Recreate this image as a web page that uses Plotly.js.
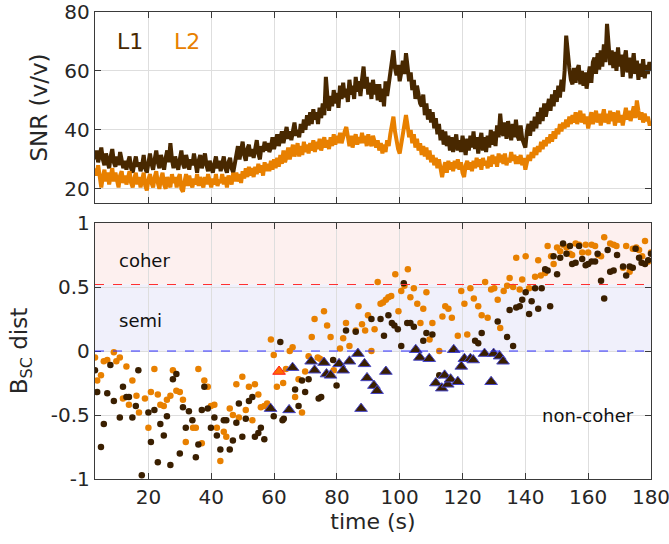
<!DOCTYPE html>
<html>
<head>
<meta charset="utf-8">
<script src="https://cdn.plot.ly/plotly-3.0.1.min.js"></script>
<style>html,body{margin:0;padding:0;background:#fff;}#chart{width:669px;height:544px;}</style>
</head>
<body>
<div id="chart"></div>
<script>
// ---------- top panel: SNR time series (0.5 s samples starting at t0) ----------
const snrT0 = 3, snrDt = 0.5;
const snrL1 = [
30,33,29,31,34,30,28,32,29.5,27,
31,33.5,29,27.5,31,28,32.5,30,27,29.5,
26.5,29,31,27,25.5,28.5,31,27.5,29,26,
28,31.5,27,25.5,29,32,28.5,26.5,30,33,
29,27,31.5,28,26.5,30.5,33,29,35.5,30,
27,31,29,26.5,30,33,28.5,27,31.5,29,
26.5,30,28,32,27.5,25.5,29.5,31.5,27,29,
32,28,26,29.5,27.5,25.5,28.5,31,27,29.5,
26,28.5,31,27,25.5,29,30.5,27,25.5,28.5,
31,34.5,30,32.5,36,31.5,29.5,33.5,35,31,
33.5,30.5,34,36.5,32,30,34.5,32.5,36,33,
35.5,32.5,34,37.5,33.5,36,38.5,34.5,36.5,39.5,
35.5,38.5,41,37,39.5,36.5,40.5,42.5,38,40,
37.5,42,39,43.5,40,45,41.5,46,42,47,
43.5,46,42,47.5,44,49,45,58,51,46.5,
51.5,48,53.5,49,52.5,47.5,55,50.5,56,51,
54,49.5,57,52,55,50.5,58,53,56.5,51.5,
57,61.5,54,58,52,56,50.5,57,52,55.5,
50,55.5,49.5,54,48,56.5,51.5,55,59,62,
67,61,58.5,62,56.5,59.5,63.5,59,66,61.5,
56.5,59.5,53.5,57,50.5,55,52,49,48,52,
45,49,43.5,47,42.5,46,40.5,44,38.5,42,
36.5,40,35,39.5,34.5,38,33,37.5,32.5,36,
38.5,33,36.5,32.5,38,34.5,31.5,37,33,38,
34,39.5,33.5,37.5,32,36,39,33,37.5,32.5,
38,34,40,35,39.5,34.5,41.5,37.5,45.5,39.5,
38,42.5,37,43,38.5,36.5,42,37.5,43.5,38,
36.5,41.5,37,35,34,39.5,42,38,43,39.5,
44.5,40.5,46,42,47.5,43,49,44.5,48,50.5,
46.5,52,48,53.5,49.5,55,51,57,53,60,
72,64,61,57,55.5,61,56,60.5,62,55.5,
60,55,59.5,54,58.5,61.5,56,63,64.5,59,
66,60.5,67,61.5,69,63,76,68,62,67,
61,66.5,60,68,61.5,65.5,58,64,67,59.5,
64.5,57.5,63,66,59,63.5,57,62.5,58,64,
57.5,62,59,63,60
];
const snrL2 = [
27,24.5,28,23.5,20.5,24,26.5,22.5,25.5,21.5,
24.5,27,22.5,25.5,23,20.5,24.5,26,22,24.5,
21.5,24,26,22,20.5,23.5,25.5,21.5,24,20.5,
23.5,25.5,21,19.5,23,25,22,20.5,24,26,
22,20,23.5,25.5,21.5,20,24,22.5,20.5,25,
22,24,20.5,23.5,25,20,19,22.5,25,21,
24.5,22,20.5,23.5,21.5,25,21,24,22,20.5,
24,21.5,25,22.5,20.5,23.5,21.5,25,21,23,
22,25,21.5,24,20.5,24.5,23,21.5,25.5,22.5,
25.5,22.5,25,22,26,23.5,27,24,27.5,24.5,
27,24,27.5,25,28.5,25.5,28,24.5,29,26,
28.5,26,29.5,26.5,30,27,30.5,27.5,31.5,28.5,
33,29,31,34,30,32.5,35,31,33.5,35.5,
31,34.5,31.5,36,32.5,35,32,35.5,33,36.5,
32.5,36,33.5,37,33,35.5,37.5,34,36.5,33.5,
37.5,34.5,38.5,35,38,35.5,39,35.5,38,39.5,
41,36.5,34.5,38,34,37,38.5,35,37.5,35.5,
39,35.5,38,34.5,38.5,36,34.5,38,35.5,34,
36.5,33,35.5,32,35,32.5,36.5,34.5,38.5,41.5,
44.5,39.5,36,33.5,32,35.5,38.5,41.5,45,41.5,
37.5,40,35.5,38.5,34,37,33,35.5,31.5,34.5,
31,34,30,33,29,31.5,28,30.5,27,30,
26.5,24,27,29,25.5,29.5,26.5,29,26,29.5,
27,30,26.5,29,25.5,24,28,29.5,26.5,29,
26,29.5,27,30.5,27.5,30,26.5,30.5,28,29.5,
27,31,27.5,31.5,28.5,31,27.5,32,29,31.5,
28.5,32,28,30.5,29,32.5,29.5,31.5,28.5,31,
28.5,31.5,28,30.5,26.5,30,31.5,29.5,32.5,30.5,
34,31.5,34.5,32.5,36,33.5,36.5,34.5,37.5,35.5,
38.5,36,39.5,37,40.5,38.5,42,39.5,42.5,40.5,
43.5,41,44.5,42,45,42.5,46,42,44.5,46.5,
42.5,45.5,42,44.5,40.5,44,46,42,44.5,46.5,
42.5,45.5,41.5,45,47,42.5,45.5,42,46.5,43,
46,41.5,44.5,46.5,42.5,45,41.5,45.5,47.5,43.5,
46.5,43,45.5,48,44,50,46.5,43.5,46,42.5,
45.5,43,44.5,42,42
];

// ---------- bottom panel: B_SC distance ----------
const l1DistT = [3,3.7,4.9,5.8,6.9,7.9,9.0,10.9,11.9,13.0,13.8,14.9,16.0,16.8,17.9,20,20.8,21.9,23.0,23.8,24.9,25.9,27.0,27.8,28.9,30.0,31.0,31.9,32.9,34.0,35.1,35.9,37.0,37.8,38.9,39.9,41.0,41.8,42.9,44.0,44.8,45.9,46.9,48.0,48.8,49.9,51.0,52.0,53.1,53.9,55.0,55.8,56.9,59.9,62.0,63.1,
62.7,66.7,67.8,68.9,69.9,71.0,74.2,75.0,78.8,79.9,82.9,86.0,91.0,93.9,95.0,96.4,97.5,98.3,99.4,100.5,101.3,102.4,103.4,104.5,107.5,108.5,110.4,112.6,
124.0,125.0,126.1,131.2,134.2,135.0,136.1,137.1,138.2,139.0,140.1,141.2,142.0,143.1,144.1,145.2,146.3,147.1,147.9,149.0,150.1,151.1,152.0,153.1,154.2,154.9,156.0,157.1,158.1,159.2,160.0,161.1,162.2,163.0,164.1,165.1,166.2,167.0,168.1,169.2,171.1,172.1,173.2,174.2,175.1,176.2,177.0,178.1,179.1,180];
const l1DistV = [-0.15,-0.32,-0.75,-0.57,-0.33,-0.11,-0.39,-0.52,-0.28,-0.36,-0.36,-0.52,-0.43,-0.15,-0.97,-0.48,-0.71,-0.46,-0.87,-0.57,-0.66,-0.51,-0.89,-0.22,-0.18,-0.8,-0.44,-0.6,-0.47,-0.54,-0.83,-0.73,-0.46,-0.28,-0.45,-0.6,-0.52,-0.66,-0.77,-0.54,-0.54,-0.77,-0.7,-0.56,-0.41,-0.67,-0.53,-0.39,-0.36,-0.67,-0.64,-0.6,-0.69,-0.51,0.07,-0.53,
-0.54,-0.3,-0.43,-0.23,-0.32,-0.22,-0.37,-0.36,-0.07,-0.27,0.16,0.15,0.25,0.25,0.12,0.28,0.22,0.2,0.17,0.04,0.53,0.22,0.22,0.19,0.08,0.14,0.13,-0.19,
0.08,0.06,0.14,0.23,0.11,0.32,0.04,0.34,0.35,0.4,0.46,0.29,0.39,0.49,0.33,0.49,0.64,0.63,0.35,0.74,0.6,0.73,0.84,0.76,0.82,0.68,0.69,0.82,0.72,0.67,0.68,0.7,0.7,0.76,0.55,0.41,0.79,0.62,0.63,0.75,0.66,0.59,0.66,0.65,0.8,0.73,0.69,0.68,0.71,0.76];

const l2DistT = [3,3.7,4.9,5.8,6.9,9.0,9.8,10.9,11.9,13.0,13.8,14.9,16.2,17.0,18.9,20.0,20.8,21.9,23.0,23.8,24.9,25.9,27.0,27.8,28.9,30.0,31.0,31.9,34.2,35.1,35.9,37.0,37.8,38.9,39.9,41.0,41.8,42.9,44.0,44.8,45.9,46.9,48.0,48.8,49.9,51.0,52.0,53.1,53.9,55.0,55.8,56.9,57.8,59.0,59.9,60.9,
62.9,63.8,65.0,65.9,66.7,67.8,68.9,69.9,71.0,72.0,72.9,73.9,74.6,75.9,76.9,78.0,79.0,81.0,82.0,82.9,84.0,86.0,86.9,88.0,89.0,89.9,91.0,92.0,93.0,93.9,94.7,95.6,96.4,97.3,98.6,99.6,100.5,101.5,102.6,103.4,104.5,105.6,106.6,107.5,108.5,109.5,110.4,112.6,113.6,114.5,115.5,116.6,118.5,119.6,120.6,121.5,122.5,123.6,
125.0,126.1,127.2,128.0,129.1,130.1,131.2,132.0,133.1,134.2,135.0,136.1,137.1,138.2,139.0,140.1,141.2,143.1,144.1,144.9,146.3,147.1,148.2,149.0,150.1,151.1,152.0,153.1,154.2,154.9,156.0,157.1,158.1,159.2,160.0,161.1,162.2,163.2,164.1,165.1,167.0,168.1,169.0,171.1,172.1,173.2,174.2,175.3,176.2,177.2,178.1,179.1,180];
const l2DistV = [-0.05,-0.23,-0.19,-0.08,-0.07,-0.01,-0.08,-0.05,-0.37,-0.12,-0.42,-0.23,-0.35,-0.48,-0.37,-0.6,-0.32,-0.14,-0.34,-0.42,-0.43,-0.38,-0.35,-0.15,-0.31,-0.32,-0.38,-0.71,-0.6,-0.6,-0.14,-0.72,-0.23,-0.28,-0.43,-0.42,-0.6,-0.86,-0.63,-0.67,-0.45,-0.5,-0.26,-0.52,-0.2,-0.46,-0.28,-0.54,-0.26,-0.34,-0.44,-0.43,-0.41,0.09,-0.03,-0.28,
-0.25,-0.14,0.0,0.03,-0.36,-0.22,-0.48,-0.16,-0.04,0.11,0.25,-0.05,-0.06,0.31,0.2,0.11,-0.15,0.02,0.1,0.22,0.04,0.16,0.35,0.21,0.16,0.28,0.0,0.17,0.54,0.37,0.38,0.4,0.42,0.43,0.6,0.31,0.47,0.51,0.64,0.42,0.49,0.37,0.22,0.33,0.46,0.09,0.22,0.0,0.27,0.35,0.33,0.26,0.12,0.47,0.37,0.13,0.49,0.41,
0.35,0.28,0.54,0.26,0.48,0.49,0.4,0.18,0.47,0.51,0.57,0.5,0.73,0.48,0.56,0.74,0.49,0.58,0.71,0.59,0.61,0.82,0.74,0.68,0.81,0.78,0.83,0.81,0.76,0.75,0.84,0.83,0.77,0.83,0.77,0.83,0.82,0.75,0.74,0.89,0.84,0.83,0.82,0.65,0.82,0.62,0.8,0.81,0.79,0.74,0.86,0.7,0.77];

const triT = [58.9,64.8,65.9,71.8,72.9,75.9,76.7,78.0,80.7,82.0,84.0,86.7,87.7,88.8,89.6,91.8,92.8,95.6,105.1,106.4,109.4,111.5,113.4,114.3,115.3,116.2,117.2,118.5,119.6,120.6,122.5,123.4,127.0,129.1,129.9,131.8,132.9];
const triV = [-0.45,-0.46,-0.13,-0.08,-0.15,-0.09,-0.18,-0.19,-0.1,-0.15,-0.08,-0.02,-0.45,-0.1,-0.21,-0.27,-0.31,-0.16,0.01,-0.05,-0.06,-0.25,-0.29,-0.19,-0.26,-0.22,0.01,-0.24,-0.12,-0.06,-0.06,-0.07,-0.02,-0.24,-0.02,-0.04,-0.08];
const triOrangeT = [61.6];
const triOrangeV = [-0.16];

const coherThr = 0.52, semiThr = 0;
const xRange = [3, 180];
const xTicks = [20,40,60,80,100,120,140,160,180];
const snrTicks = [20,40,60,80];
const distTicks = [-1,-0.5,0,0.5,1];
const distTickText = ['-1','-0.5','0','0.5','1'];

const C1 = '#482800', C2 = '#e88000';
const snrT1 = snrL1.map((_, i) => snrT0 + i * snrDt);
const snrT2 = snrL2.map((_, i) => snrT0 + i * snrDt);

const font = 'DejaVu Sans, Liberation Sans, sans-serif';
const axColor = '#3a3a3a';
const gridColor = '#dedede';

const traces = [
  {x: snrT1, y: snrL1, xaxis: 'x', yaxis: 'y', mode: 'lines', line: {color: C1, width: 4}, hoverinfo: 'skip'},
  {x: snrT2, y: snrL2, xaxis: 'x', yaxis: 'y', mode: 'lines', line: {color: C2, width: 4}, hoverinfo: 'skip'},
  {x: l2DistT, y: l2DistV, xaxis: 'x2', yaxis: 'y2', mode: 'markers', marker: {color: C2, size: 6.5}},
  {x: l1DistT, y: l1DistV, xaxis: 'x2', yaxis: 'y2', mode: 'markers', marker: {color: '#3a1f00', size: 6.5}},
  {x: triT, y: triV, xaxis: 'x2', yaxis: 'y2', mode: 'markers', marker: {symbol: 'triangle-up', color: '#3a1f00', size: 11, line: {color: '#4646c8', width: 1}}},
  {x: triOrangeT, y: triOrangeV, xaxis: 'x2', yaxis: 'y2', mode: 'markers', marker: {symbol: 'triangle-up', color: '#ff6a00', size: 11, line: {color: '#ff1a1a', width: 1}}}
];

const axCommon = {
  showline: true, linecolor: axColor, linewidth: 1.2, mirror: 'ticks',
  ticks: 'inside', ticklen: 6, tickcolor: axColor, tickwidth: 1,
  showgrid: true, gridcolor: gridColor, gridwidth: 1, zeroline: false,
  ticklabeloverflow: 'allow',
  tickfont: {family: font, size: 20, color: '#262626'}
};

const layout = {
  width: 669, height: 544,
  margin: {l: 95, r: 18, t: 12, b: 65},
  paper_bgcolor: '#fff', plot_bgcolor: 'rgba(0,0,0,0)',
  showlegend: false,
  font: {family: font, color: '#262626'},
  xaxis: Object.assign({}, axCommon, {domain: [0,1], anchor: 'y', range: xRange, tickvals: xTicks, showticklabels: false}),
  yaxis: Object.assign({}, axCommon, {domain: [0.591, 1], anchor: 'x', range: [15.2, 80], tickvals: snrTicks,
    title: {text: 'SNR (v/v)', font: {family: font, size: 23, color: '#262626'}, standoff: 10}}),
  xaxis2: Object.assign({}, axCommon, {domain: [0,1], anchor: 'y2', range: xRange, tickvals: xTicks,
    title: {text: 'time (s)', font: {family: font, size: 22, color: '#262626'}, standoff: 4}}),
  yaxis2: Object.assign({}, axCommon, {domain: [0, 0.548], anchor: 'x2', range: [-1, 1], tickvals: distTicks, ticktext: distTickText,
    title: {text: 'B<sub>SC</sub> dist', font: {family: font, size: 23, color: '#262626'}, standoff: 16}}),
  shapes: [
    {type: 'rect', xref: 'x2', yref: 'y2', x0: xRange[0], x1: xRange[1], y0: coherThr, y1: 1, fillcolor: '#fdf0ef', line: {width: 0}, layer: 'below'},
    {type: 'rect', xref: 'x2', yref: 'y2', x0: xRange[0], x1: xRange[1], y0: semiThr, y1: coherThr, fillcolor: '#f0f0fb', line: {width: 0}, layer: 'below'},
    {type: 'line', xref: 'x2', yref: 'y2', x0: xRange[0], x1: xRange[1], y0: coherThr, y1: coherThr, line: {color: '#ff3030', width: 1, dash: 'dash'}},
    {type: 'line', xref: 'x2', yref: 'y2', x0: xRange[0], x1: xRange[1], y0: semiThr, y1: semiThr, line: {color: '#3030ff', width: 1, dash: 'dash'}}
  ],
  annotations: [
    {xref: 'x', yref: 'y', x: 14, y: 70, text: 'L1', showarrow: false, font: {family: font, size: 22, color: C1}},
    {xref: 'x', yref: 'y', x: 32.2, y: 70, text: 'L2', showarrow: false, font: {family: font, size: 22, color: C2}},
    {xref: 'x2', yref: 'y2', x: 9.9, y: 0.71, text: 'coher', xanchor: 'left', showarrow: false, font: {family: font, size: 18, color: '#111'}},
    {xref: 'x2', yref: 'y2', x: 9.9, y: 0.24, text: 'semi', xanchor: 'left', showarrow: false, font: {family: font, size: 18, color: '#111'}},
    {xref: 'x2', yref: 'y2', x: 144.7, y: -0.5, text: 'non-coher', xanchor: 'left', showarrow: false, font: {family: font, size: 18, color: '#111'}}
  ]
};

Plotly.newPlot('chart', traces, layout, {staticPlot: true, displayModeBar: false});
</script>
</body>
</html>
